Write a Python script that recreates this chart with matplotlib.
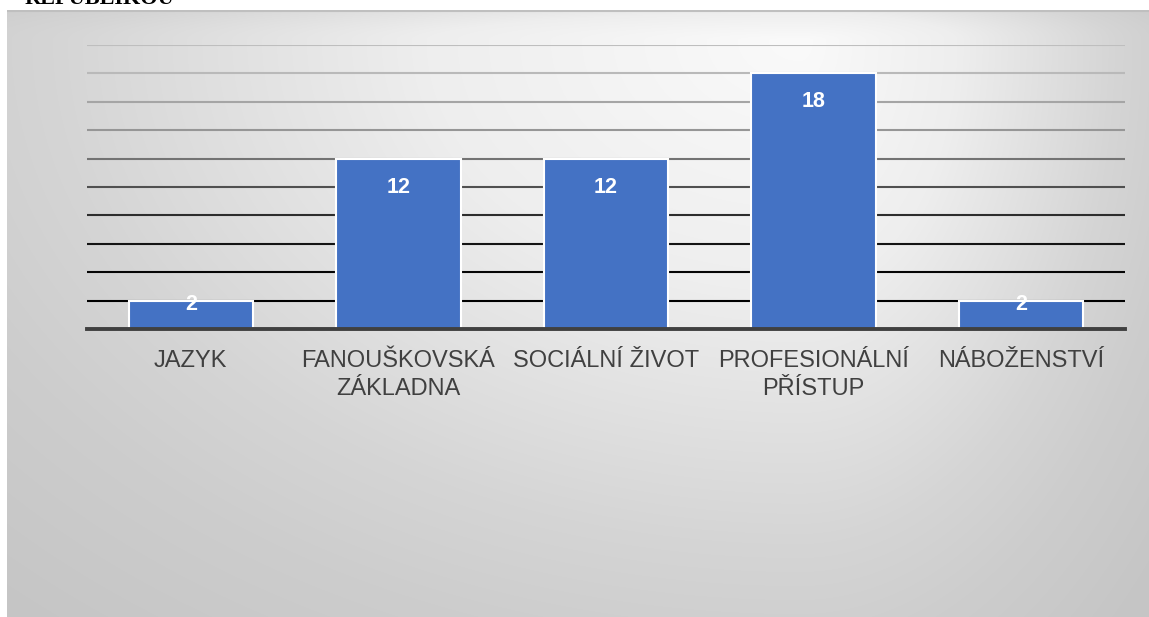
import numpy as np
import matplotlib
matplotlib.use("Agg")
import matplotlib.pyplot as plt
from matplotlib.colors import to_hex

categories = ["JAZYK", "FANOUŠKOVSKÁ\nZÁKLADNA", "SOCIÁLNÍ ŽIVOT", "PROFESIONÁLNÍ\nPŘÍSTUP", "NÁBOŽENSTVÍ"]
values = [2, 12, 12, 18, 2]
y_ticks = [2, 4, 6, 8, 10, 12, 14, 16, 18, 20]
title_fragment = "REPUBLIKOU"

W, H, DPI = 1149, 617, 100
fig = plt.figure(figsize=(W / DPI, H / DPI), dpi=DPI)
fig.patch.set_facecolor("white")

# background gradient panel (chart area)
x0, y0 = 7, 10  # pixel offsets of chart area (left, top)
bg = fig.add_axes([x0 / W, 0, 1 - x0 / W, 1 - y0 / H])
bg.set_axis_off()
xs = np.arange(x0, W) + 0.5
ys = np.arange(y0, H) + 0.5
X, Y = np.meshgrid(xs, ys)
cx, cy = 800.0, 40.0
dx = X - cx
dy = Y - cy
rx = np.where(dx < 0, 830.0, 350.0)
ry = np.where(dy < 0, 60.0, 560.0)
t = np.sqrt((dx / rx) ** 2 + (dy / ry) ** 2)
v = np.interp(t, [0, 0.45, 0.9, 1.1, 1.4], [250, 238, 213, 205, 197]) / 255.0
img = np.dstack([v, v, v])
bg.imshow(img, aspect="auto", extent=[0, 1, 0, 1], origin="upper", interpolation="bilinear")
bg.set_xlim(0, 1)
bg.set_ylim(0, 1)
bg.axhline(1 - 0.8 / (H - y0), color="#bfbfbf", lw=1.5)

# main axes
left, right = 87 / W, 1125 / W
bottom, top = 1 - 329 / H, 1 - 45 / H
ax = fig.add_axes([left, bottom, right - left, top - bottom])
ax.patch.set_alpha(0)
for s in ax.spines.values():
    s.set_visible(False)

n = len(categories)
xpos = np.arange(n)
ax.set_xlim(-0.5, n - 0.5)
ax.set_ylim(0, 20)

# gridlines with gradient from light gray (top) to black (bottom)
grays = [0, 5, 20, 45, 80, 115, 150, 165, 185, 190]
for yv, g in zip(y_ticks, grays):
    c = to_hex((g / 255, g / 255, g / 255))
    ax.axhline(yv, color=c, lw=1.5, zorder=1)

bars = ax.bar(xpos, values, width=0.6, color="#4472C4", edgecolor="white", linewidth=1.5, zorder=2)
ax.axhline(0, color="#404040", lw=2.8, zorder=3, clip_on=False)

# data labels (inside end)
px_per_unit = (329 - 45) / 20.0
for xi, val in zip(xpos, values):
    bar_px = val * px_per_unit
    off_px = min(28.5, max(4.0, bar_px - 24.0))
    ax.annotate(str(val), (xi, val), xytext=(0, -off_px * 72 / DPI), textcoords="offset points",
                ha="center", va="center", color="white", fontsize=15.5, fontweight="bold",
                family="Liberation Sans", zorder=4)

ax.set_yticks([])
ax.set_xticks(xpos)
ax.set_xticklabels(categories, fontsize=17, color="#404040", family="Liberation Sans", linespacing=1.35)
ax.tick_params(axis="x", length=0, pad=15)

# clipped title fragment at top
fig.text(25 / W, 1 - 4 / H, title_fragment, ha="left", va="baseline", fontsize=16,
         fontweight="bold", family="Liberation Serif", color="black")

fig.savefig("out.png", dpi=DPI, facecolor=fig.get_facecolor())
